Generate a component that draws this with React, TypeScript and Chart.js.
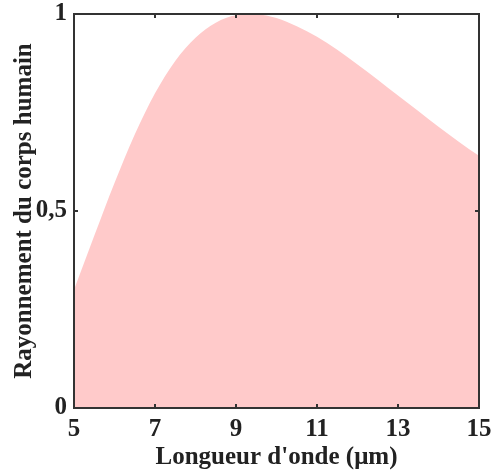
import React, { useEffect, useRef } from "react";
import { Chart, registerables } from "chart.js";

Chart.register(...registerables);

const wavelengths = [5, 5.5, 6, 6.5, 7, 7.5, 8, 8.5, 9, 9.5, 10, 10.5, 11, 11.5, 12, 12.5, 13, 13.5, 14, 14.5, 15];
const radiance = [0.30, 0.437, 0.571, 0.694, 0.799, 0.881, 0.940, 0.978, 0.997, 0.999, 0.990, 0.969, 0.942, 0.909, 0.872, 0.833, 0.793, 0.754, 0.714, 0.676, 0.64];
const xTicks = [5, 7, 9, 11, 13, 15];
const yTicks = [0, 0.5, 1];
const yTickLabels = ["0", "0,5", "1"];
const xTitle = "Longueur d'onde (μm)";
const yTitle = "Rayonnement du corps humain";

const FONT = "'Liberation Serif', 'Times New Roman', serif";
const FRAME = "#333333";
const TEXT = "#222222";

const framePlugin = {
  id: "frame",
  afterDraw(chart: any) {
    const { ctx, chartArea } = chart;
    const xs = chart.scales.x;
    const ys = chart.scales.y;
    const { left, right, top, bottom } = chartArea;
    ctx.save();
    ctx.strokeStyle = FRAME;
    ctx.lineWidth = 2;
    ctx.strokeRect(left, top, right - left, bottom - top);
    const tl = 4;
    xTicks.forEach((v) => {
      const px = Math.round(xs.getPixelForValue(v));
      ctx.beginPath();
      ctx.moveTo(px, bottom);
      ctx.lineTo(px, bottom - tl);
      ctx.moveTo(px, top);
      ctx.lineTo(px, top + tl);
      ctx.stroke();
    });
    yTicks.forEach((v) => {
      const py = Math.round(ys.getPixelForValue(v));
      ctx.beginPath();
      ctx.moveTo(left, py);
      ctx.lineTo(left + tl, py);
      ctx.moveTo(right, py);
      ctx.lineTo(right - tl, py);
      ctx.stroke();
    });
    ctx.restore();
  },
};

export default function App() {
  const ref = useRef<HTMLCanvasElement>(null);
  useEffect(() => {
    if (!ref.current) return;
    const chart = new Chart(ref.current, {
      type: "line",
      data: {
        datasets: [
          {
            data: wavelengths.map((x, i) => ({ x, y: radiance[i] })),
            fill: "origin",
            backgroundColor: "#FFCACA",
            borderWidth: 0,
            borderColor: "rgba(0,0,0,0)",
            pointRadius: 0,
            tension: 0.4,
            cubicInterpolationMode: "monotone",
          },
        ],
      },
      options: {
        animation: false,
        responsive: false,
        layout: { padding: { top: 14, right: 13, left: 0, bottom: 0 } },
        plugins: { legend: { display: false }, tooltip: { enabled: false } },
        scales: {
          x: {
            type: "linear",
            min: 5,
            max: 15,
            afterBuildTicks: (s: any) => {
              s.ticks = xTicks.map((v) => ({ value: v }));
            },
            afterFit: (s: any) => {
              s.height = 62;
              s.paddingLeft = 0;
              s.paddingRight = 0;
            },
            grid: { display: false, drawTicks: false },
            border: { display: false },
            ticks: {
              padding: 7,
              color: TEXT,
              font: { family: FONT, size: 25, weight: "bold" },
              maxRotation: 0,
            },
            title: {
              display: true,
              text: xTitle,
              color: TEXT,
              font: { family: FONT, size: 25, weight: "bold", lineHeight: 1 },
              padding: { top: 0, bottom: 0 },
            },
          },
          y: {
            type: "linear",
            min: 0,
            max: 1,
            afterBuildTicks: (s: any) => {
              s.ticks = yTicks.map((v) => ({ value: v }));
            },
            afterFit: (s: any) => {
              s.width = 74;
              s.paddingTop = 0;
              s.paddingBottom = 0;
            },
            grid: { display: false, drawTicks: false },
            border: { display: false },
            ticks: {
              padding: 7,
              color: TEXT,
              font: { family: FONT, size: 25, weight: "bold" },
              callback: (v: any) => {
                const i = yTicks.indexOf(Number(v));
                return i >= 0 ? yTickLabels[i] : "";
              },
            },
            title: {
              display: true,
              text: yTitle,
              color: TEXT,
              font: { family: FONT, size: 25, weight: "bold", lineHeight: 1 },
              padding: { top: 12.5, bottom: 0 },
            },
          },
        },
      },
      plugins: [framePlugin],
    } as any);
    return () => chart.destroy();
  }, []);
  return (
    <div style={{ position: "fixed", left: 0, top: 0, width: 492, height: 470, background: "#fff" }}>
      <canvas ref={ref} width={492} height={470} />
    </div>
  );
}
